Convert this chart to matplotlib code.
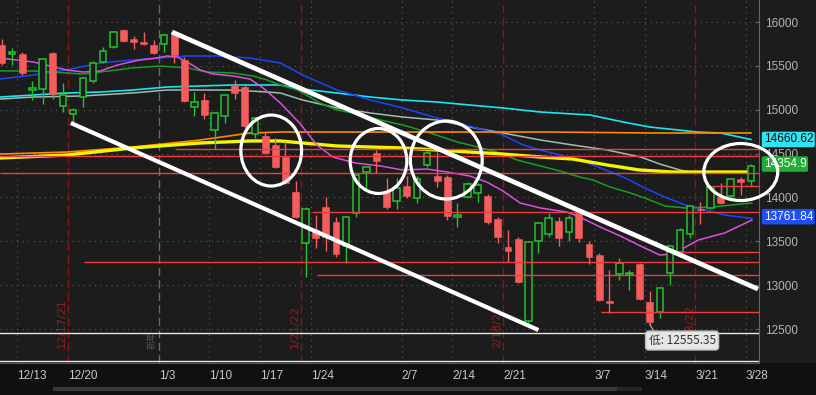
import numpy as np
import matplotlib.pyplot as plt
from matplotlib.patches import Ellipse, Rectangle
import matplotlib.transforms as mtrans

# daily bars, 12/9/21 .. 3/28/22
dates = ['12/9', '12/10', '12/13', '12/14', '12/15', '12/16', '12/17', '12/20', '12/21', '12/22',
         '12/23', '12/27', '12/28', '12/29', '12/30', '12/31', '1/3', '1/4', '1/5', '1/6',
         '1/7', '1/10', '1/11', '1/12', '1/13', '1/14', '1/18', '1/19', '1/20', '1/21',
         '1/24', '1/25', '1/26', '1/27', '1/28', '1/31', '2/1', '2/2', '2/3', '2/4',
         '2/7', '2/8', '2/9', '2/10', '2/11', '2/14', '2/15', '2/16', '2/17', '2/18',
         '2/22', '2/23', '2/24', '2/25', '2/28', '3/1', '3/2', '3/3', '3/4', '3/7',
         '3/8', '3/9', '3/10', '3/11', '3/14', '3/15', '3/16', '3/17', '3/18', '3/21',
         '3/22', '3/23', '3/24', '3/25', '3/28']
opens = [15738, 15640, 15635, 15230, 15236, 15647, 15043, 14951, 15145, 15328,
         15544, 15715, 15909, 15806, 15772, 15738, 15749, 15886, 15567, 15031,
         15111, 14769, 14928, 15282, 15259, 14723, 14700, 14598, 14461, 14062,
         13481, 13629, 13891, 13720, 13447, 13823, 14290, 14507, 14062, 13959,
         14131, 13994, 14370, 14245, 14233, 13780, 14005, 14051, 14017, 13754,
         13435, 13526, 12592, 13504, 13583, 13731, 13606, 13823, 13469, 13344,
         12815, 13127, 13125, 13241, 12808, 12694, 13139, 13378, 13583, 13868,
         13880, 14005, 14017, 14210, 14188]
highs = [15806, 15705, 15658, 15328, 15590, 15660, 15305, 15020, 15375, 15555,
         15715, 15895, 15920, 15840, 15886, 15795, 15860, 15897, 15601, 15202,
         15191, 14975, 15180, 15339, 15282, 14920, 14746, 14678, 14644, 14188,
         13891, 13800, 14005, 13777, 13790, 14268, 14360, 14540, 14222, 14222,
         14245, 14245, 14530, 14518, 14256, 13937, 14176, 14165, 14039, 13777,
         13629, 13549, 13500, 13720, 13823, 13777, 13800, 13834, 13504, 13367,
         13173, 13310, 13173, 13253, 12934, 12980, 13460, 13652, 13915, 13948,
         14142, 14165, 14222, 14233, 14380]
lows = [15510, 15510, 15396, 15111, 15065, 15122, 14974, 14860, 15031, 15305,
        15530, 15700, 15772, 15692, 15738, 15640, 15658, 15533, 15090, 14928,
        14894, 14552, 14849, 15122, 14792, 14678, 14495, 14336, 14153, 13766,
        13093, 13424, 13389, 13321, 13253, 13777, 14096, 14279, 13868, 13868,
        13994, 13937, 14347, 14119, 13743, 13663, 13994, 13948, 13697, 13481,
        13264, 13025, 12569, 13367, 13549, 13446, 13504, 13492, 13241, 12820,
        12683, 13059, 12945, 12830, 12555.35, 12626, 12998, 13365, 13538, 13697,
        13870, 13925, 13971, 14028, 14131]
closes = [15533, 15652, 15419, 15240, 15578, 15179, 15168, 14997, 15362, 15533,
          15670, 15886, 15784, 15772, 15749, 15647, 15852, 15624, 15100, 15088,
          14940, 14963, 15168, 15191, 14815, 14906, 14507, 14347, 14165, 13777,
          13868, 13538, 13549, 13355, 13777, 14256, 14347, 14416, 13891, 14108,
          14017, 14210, 14507, 14188, 13789, 13800, 14153, 14142, 13720, 13549,
          13389, 13036, 13492, 13709, 13766, 13538, 13766, 13538, 13321, 12831,
          12800, 13253, 13135, 12842, 12580, 12968, 13446, 13629, 13902, 13857,
          14119, 13937, 14210, 14176, 14354.9]

# moving-average lines (x = bar index)
pink_x = [-0.2, 3.1, 6.4, 8.0, 9.7, 11.4, 13.6, 15.3, 16.3, 17.3, 18.3, 19.6, 20.9, 22.8,
          24.5, 25.8, 27.5, 29.4, 31.1, 32.7, 34.9, 37.4, 39.6, 42.0, 44.0, 46.2, 47.9,
          49.5, 51.2, 53.2, 55.8, 57.1, 59.1, 61.1, 63.3, 65.0, 66.3, 68.8, 71.4, 74.1]
pink_y = [15590, 15544, 15453, 15430, 15442, 15510, 15567, 15590, 15613, 15601, 15544,
          15453, 15407, 15385, 15350, 15248, 15077, 14849, 14598, 14461, 14393, 14359,
          14313, 14324, 14290, 14245, 14176, 14074, 13937, 13880, 13834, 13777, 13663,
          13561, 13435, 13344, 13355, 13515, 13595, 13743]
green_x = [-0.2, 3.1, 6.4, 8.0, 9.7, 12.9, 15.6, 18.3, 20.3, 22.8, 24.8, 26.2, 27.5, 29.2,
           31.4, 33.1, 34.7, 37.4, 39.6, 42.3, 45.0, 46.2, 48.9, 50.9, 53.2, 55.1, 57.1,
           58.4, 60.1, 62.1, 63.5, 65.5, 67.5, 70.2, 72.1, 74.1]
green_y = [15442, 15442, 15419, 15407, 15430, 15476, 15499, 15476, 15430, 15419, 15385,
           15339, 15282, 15225, 15077, 14997, 14963, 14883, 14826, 14735, 14632, 14598,
           14518, 14427, 14359, 14302, 14233, 14199, 14119, 14051, 13994, 13903, 13880,
           13891, 13914, 13937]
blue_x = [-0.2, 3.1, 6.4, 9.7, 12.9, 15.6, 18.3, 21.2, 24.5, 27.5, 29.7, 33.1, 36.4, 39.6,
          43.0, 45.0, 46.9, 49.5, 51.5, 53.2, 57.1, 60.4, 61.6, 63.5, 65.5, 67.5, 69.5,
          71.4, 74.1]
blue_y = [15350, 15396, 15453, 15533, 15567, 15590, 15613, 15613, 15590, 15533, 15396,
          15225, 15111, 15020, 14906, 14849, 14792, 14712, 14598, 14541, 14427, 14279,
          14222, 14108, 14005, 13914, 13857, 13800, 13762]
cyan_x = [-0.2, 3.1, 6.4, 9.7, 12.9, 16.3, 19.6, 22.8, 27.5, 29.7, 33.1, 36.4, 39.6, 43.0,
          46.2, 49.5, 53.2, 58.1, 61.4, 64.0, 68.7, 71.0, 74.0]
cyan_y = [15145, 15168, 15191, 15202, 15225, 15259, 15271, 15282, 15282, 15236, 15191,
          15145, 15111, 15088, 15054, 15020, 14974, 14940, 14860, 14803, 14746, 14735, 14661]
pale_x = [-0.2, 3.1, 8.0, 12.9, 16.3, 19.6, 22.8, 26.2, 27.5, 29.7, 33.1, 36.4, 39.6, 43.0,
          46.2, 49.5, 53.2, 56.4, 59.8, 63.1, 65.0, 67.0, 68.0]
pale_y = [15122, 15145, 15157, 15191, 15225, 15225, 15225, 15202, 15191, 15111, 15020,
          14963, 14917, 14883, 14803, 14735, 14655, 14598, 14541, 14461, 14381, 14313, 14290]
orange_x = [-0.2, 6.4, 12.9, 19.6, 24.5, 27.5, 54.2, 64.0, 74.0]
orange_y = [14495, 14518, 14575, 14655, 14735, 14746, 14746, 14735, 14735]
yellow_x = [-0.2, 6.4, 12.9, 19.6, 24.5, 27.5, 29.7, 33.1, 36.4, 39.6, 43.0, 46.2, 49.5,
            53.2, 56.4, 59.8, 63.0, 66.3, 74.0]
yellow_y = [14450, 14484, 14564, 14621, 14644, 14644, 14621, 14587, 14575, 14564, 14541,
            14518, 14495, 14461, 14438, 14370, 14313, 14290, 14290]

# horizontal support / resistance levels and where they start
level_price = [14552, 14467, 14279, 14131, 13834, 13378, 13264, 13116, 12694]
level_start = [17.1, -0.2, -0.2, 70.3, 30.6, 66.8, 8.1, 31.1, 59.2]
white_levels = [12455, 12136]

# drawn trend channel and circles
upper_x, upper_y = [16.8, 74.7], [15886, 12956]
lower_x, lower_y = [6.8, 53.0], [14849, 12489]
circ_x = [26.6, 37.2, 43.9, 73.0]
circ_y = [14535, 14416, 14427, 14290]
circ_w = [6.0, 5.6, 7.1, 7.3]
circ_h = [809, 741, 889, 650]

week_labels = ['12/13', '12/20', '1/3', '1/10', '1/17', '1/24', '2/7', '2/14', '2/21',
               '3/7', '3/14', '3/21', '3/28']
week_pos = [1.5, 6.5, 15.5, 20.5, 25.5, 30.5, 39.5, 44.5, 49.5, 58.5, 63.5, 68.5, 73.5]
grid_pos = [1.5, 20.5, 25.5, 30.5, 39.5, 44.5, 58.5, 63.5, 73.5]
exp_pos = [6.5, 29.5, 49.5, 68.5]
exp_labels = ['12/17/21', '1/21/22', '2/18/22', '3/18/22']

BG = '#1c1c1c'
UP = '#22c32e'
DOWN = '#f55d5d'
CJK = ['Noto Sans CJK SC', 'DejaVu Sans']

fig = plt.figure(figsize=(8.16, 3.95), dpi=100, facecolor=BG)
fig.add_artist(Rectangle((0, 0), 1, 32 / 395, transform=fig.transFigure,
                         facecolor='#101010', edgecolor='none', zorder=0))
fig.add_artist(Rectangle((53 / 816, 4 / 395), 564 / 816, 4 / 395, transform=fig.transFigure,
                         facecolor='#3a3a3a', edgecolor='none', zorder=1))
fig.add_artist(Rectangle((617 / 816, 4 / 395), 25 / 816, 4 / 395, transform=fig.transFigure,
                         facecolor='#262626', edgecolor='none', zorder=1))

ax = fig.add_axes([0, 32 / 395, 759 / 816, 363 / 395])
ax.set_facecolor(BG)
ax.set_xlim(-0.2, 74.8)
ax.set_ylim(12113, 16251)

# grid
for p in range(12500, 16001, 500):
    ax.axhline(p, color='#5a5a5a', lw=0.8, ls=(0, (1, 4)), zorder=1)
for g in grid_pos:
    ax.axvline(g, color='#5a5a5a', lw=0.8, ls=(0, (1, 4)), zorder=1)
for e, lab in zip(exp_pos, exp_labels):
    ax.axvline(e, color='#8a1515', lw=1, ls=(0, (6, 3)), zorder=1)
    ax.text(e - 0.05, 12284, lab, rotation=90, ha='right', va='bottom', color='#8f2020',
            fontsize=8, zorder=1)
ax.axvline(15.5, color='#6a6a6a', lw=1, ls=(0, (6, 3)), zorder=1)
ax.text(15.3, 12275, '新年', rotation=90, ha='right', va='bottom', color='#555555',
        fontsize=6.5, family=CJK, zorder=1)

# moving averages
ax.plot(pale_x, pale_y, color='#9ebfae', lw=1.1, zorder=2)
ax.plot(cyan_x, cyan_y, color='#19e6f0', lw=1.2, zorder=2)
ax.plot(blue_x, blue_y, color='#1747ff', lw=1.1, zorder=2)
ax.plot(green_x, green_y, color='#14a024', lw=1.1, zorder=2)
ax.plot(orange_x, orange_y, color='#ff8a00', lw=1.2, zorder=2)
ax.plot(yellow_x, yellow_y, color='#f5f500', lw=2.4, zorder=2)
ax.plot(pink_x, pink_y, color='#dd4fdd', lw=1.1, zorder=2)

# candles
o = np.array(opens, dtype=float)
c = np.array(closes, dtype=float)
for i in range(len(dates)):
    up = c[i] >= o[i]
    col = UP if up else DOWN
    ax.vlines(i, lows[i], highs[i], color=col, lw=1, zorder=3)
    lo, hi = min(o[i], c[i]), max(o[i], c[i])
    h = max(hi - lo, 14)
    if up:
        ax.add_patch(Rectangle((i - 0.32, lo), 0.64, h, facecolor=BG, edgecolor=col,
                               lw=1.1, zorder=4))
    else:
        ax.add_patch(Rectangle((i - 0.34, lo), 0.68, h, facecolor=col, edgecolor=col,
                               lw=0.4, zorder=4))

# levels
for lv, st in zip(level_price, level_start):
    ax.hlines(lv, st, 74.8, color='#f03c3c', lw=1, zorder=5)
for lv in white_levels:
    ax.axhline(lv, color='#e8e8e8', lw=1, zorder=5)

# hand-drawn channel and circles
ax.plot(upper_x, upper_y, color='white', lw=3.4, solid_capstyle='butt', zorder=6)
ax.plot(lower_x, lower_y, color='white', lw=3.0, solid_capstyle='butt', zorder=6)
for cx, cy, w, h in zip(circ_x, circ_y, circ_w, circ_h):
    ax.add_patch(Ellipse((cx, cy), w, h, fill=False, edgecolor='white', lw=2.3,
                         zorder=7, clip_on=False))

# low tooltip
ax.plot([64.0, 64.5], [12555, 12460], color='#9a9a9a', lw=1, zorder=8)
ax.text(67.2, 12369, '低: 12555.35', ha='center', va='center', fontsize=8.5,
        color='#333333', family=CJK, zorder=9,
        bbox=dict(boxstyle='round,pad=0.25', facecolor='#e6e6e6', edgecolor='#bbbbbb'))

# axes styling
for s in ['left', 'top']:
    ax.spines[s].set_visible(False)
ax.spines['right'].set_color('#666666')
ax.spines['bottom'].set_color('#555555')
ax.yaxis.tick_right()
ax.set_yticks(range(12500, 16001, 500))
ax.tick_params(axis='y', colors='#666666', labelcolor='#b4b4b4', labelsize=8.5,
               direction='in', length=3, pad=4)
for t in ax.get_yticklabels():
    t.set_family('Liberation Sans')
ax.set_xticks([])
trans = mtrans.blended_transform_factory(ax.transData, ax.transAxes)
for p, lab in zip(week_pos, week_labels):
    ax.text(p, -0.036, lab, transform=trans, ha='left', va='center', fontsize=8.5,
            color='#c8c8c8', family='Liberation Sans', clip_on=False)

# price flags on the right axis
ytr = ax.get_yaxis_transform()
ax.text(1.006, 14661, '14660.62', transform=ytr, ha='left', va='center', fontsize=8.5,
        color='#101010', family='Liberation Sans', zorder=6, clip_on=False,
        bbox=dict(boxstyle='round,pad=0.15', facecolor='#2fe3f2', edgecolor='none'))
ax.text(1.006, 14381, '14354.9', transform=ytr, ha='left', va='center', fontsize=8.5,
        color='white', family='Liberation Sans', zorder=6, clip_on=False,
        bbox=dict(boxstyle='round,pad=0.15', facecolor='#1fae35', edgecolor='none'))
ax.text(1.006, 13781, '13761.84', transform=ytr, ha='left', va='center', fontsize=8.5,
        color='white', family='Liberation Sans', zorder=6, clip_on=False,
        bbox=dict(boxstyle='round,pad=0.15', facecolor='#1f4ff5', edgecolor='none'))

fig.savefig('out.png', dpi=100, facecolor=BG)
